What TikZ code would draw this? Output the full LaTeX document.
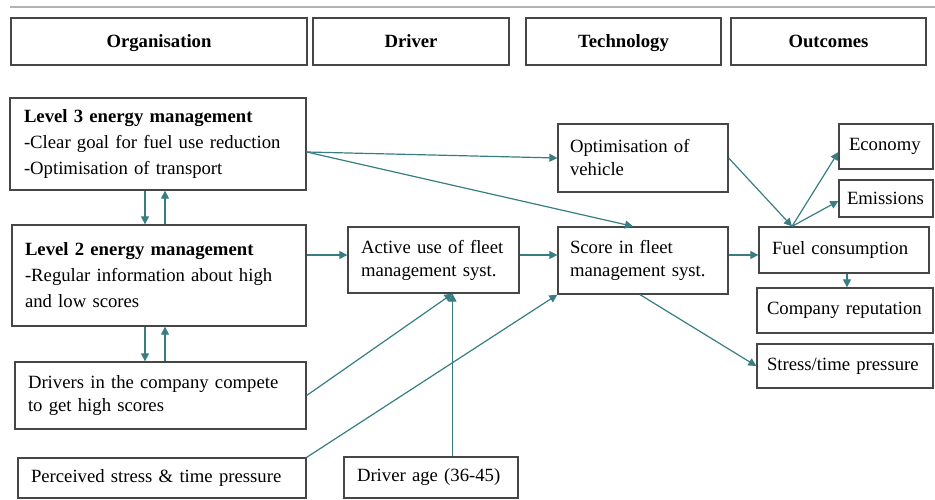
\documentclass[tikz,border=0pt]{standalone}
\usepackage{fontspec}
\setmainfont{Liberation Serif}
\usetikzlibrary{arrows.meta,calc}
\definecolor{tealc}{RGB}{55,125,130}
\definecolor{boxc}{RGB}{70,70,70}
\begin{document}
\begin{tikzpicture}[x=1pt,y=-1pt,
  box/.style={draw=boxc,line width=1.3pt,inner sep=0pt,align=left,font=\fontsize{18.7}{23}\selectfont},
  lvbox/.style={box,font=\fontsize{18.7}{26}\selectfont},
  hbox/.style={draw=boxc,line width=1.3pt,inner sep=0pt,align=center,font=\fontsize{18.7}{23}\selectfont\bfseries,minimum height=47pt,text depth=1pt},
  arr/.style={draw=tealc,line width=1.2pt,-{Triangle[length=8pt,width=8pt]}},
  ln/.style={draw=tealc,line width=1.2pt}]
\useasboundingbox (0,0) rectangle (935,500);
\begin{scope}
\clip (0,0) rectangle (935,500);
\draw[black!30,line width=2pt] (10,7) -- (935,7);

% headers
\node[hbox,minimum width=296pt] (hOrg) at (159,41.5) {Organisation};
\node[hbox,minimum width=196pt] (hDrv) at (411,41.5) {Driver};
\node[hbox,minimum width=195pt] (hTech) at (623.5,41.5) {Technology};
\node[hbox,minimum width=195pt] (hOut) at (828.5,41.5) {Outcomes};

% organisation column
\node[lvbox,minimum width=296pt,minimum height=92pt,text width=268pt] (l3) at (158,144)
  {\textbf{Level 3 energy management}\\-Clear goal for fuel use reduction\\-Optimisation of transport};
\node[lvbox,minimum width=294pt,minimum height=101pt,text width=268pt] (l2) at (159,275.5)
  {\textbf{Level 2 energy management}\\-Regular information about high\\and low scores};
\node[box,minimum width=291pt,minimum height=67pt,text width=265pt] (comp) at (160.5,395.5)
  {Drivers in the company compete\\to get high scores};
\node[box,minimum width=288pt,minimum height=40pt,text width=262pt] (perc) at (162,478)
  {Perceived stress \& time pressure};

% driver column
\node[box,minimum width=174pt,minimum height=41pt,text width=148pt] (age) at (431,477.5) {Driver age (36-45)};
\node[box,minimum width=171pt,minimum height=66pt,text width=145pt] (act) at (433.5,260)
  {Active use of fleet\\management syst.};

% technology column
\node[box,minimum width=170pt,minimum height=67pt,text width=146pt] (score) at (643,260.5)
  {Score in fleet\\management syst.};
\node[box,minimum width=170pt,minimum height=68pt,text width=146pt] (optv) at (643,158)
  {Optimisation of\\vehicle};

% outcomes column
\node[box,minimum width=94pt,minimum height=45pt,text width=74pt] (econ) at (886,146.5) {Economy};
\node[box,minimum width=94pt,minimum height=37pt,text width=78pt] (emis) at (886,198.5) {Emissions};
\node[box,minimum width=170pt,minimum height=46pt,text width=144pt] (fuel) at (844,250) {Fuel consumption};
\node[box,minimum width=176pt,minimum height=45pt,text width=156pt] (rep) at (845,310.5) {Company reputation};
\node[box,minimum width=176pt,minimum height=44pt,text width=156pt] (stress) at (845,366) {Stress/time pressure};

% helper coordinates
\coordinate (l3out) at ([yshift=-8pt]l3.east);
\coordinate (d1) at ([xshift=-13pt]l3.south);
\coordinate (u1) at ([xshift=7pt]l3.south);
\coordinate (d2) at ([xshift=-14pt]l2.south);
\coordinate (u2) at ([xshift=6pt]l2.south);
\coordinate (actin) at ([xshift=19pt]act.south);
\coordinate (fj) at ([xshift=-52pt]fuel.north);

% connectors
\draw[arr] (l3out) -- (optv.west);
\draw[arr] (l3out) -- ([xshift=-10pt]score.north);
\draw[arr] (d1) -- (d1 |- l2.north);
\draw[arr] (u1 |- l2.north) -- (u1);
\draw[arr] (d2) -- (d2 |- comp.north);
\draw[arr] (u2 |- comp.north) -- (u2);
\draw[arr] ([yshift=20.5pt]l2.east) -- ([yshift=5pt]act.west);
\draw[arr] ([yshift=5pt]act.east) -- ([yshift=5.5pt]score.west);
\draw[arr] ([yshift=5.5pt]score.east) -- ([yshift=-5pt]fuel.west);
\draw[arr] (comp.east) -- (actin);
\draw[arr] (perc.north east) -- (score.south west);
\draw[arr] (age.north -| actin) -- (actin);
\draw[arr] ([xshift=-3pt]score.south) -- (stress.west);
\draw[arr] (optv.east) -- (fj);
\draw[arr] (fj) -- ([yshift=-5.5pt]econ.west);
\draw[arr] (fj) -- ([yshift=-2.5pt]emis.west);
\draw[arr] ([xshift=3pt]fuel.south) -- ([xshift=2pt]rep.north);
\end{scope}
\end{tikzpicture}
\end{document}
